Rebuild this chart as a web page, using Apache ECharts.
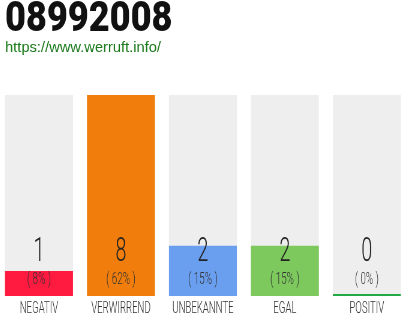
<!DOCTYPE html>
<html>
<head>
<meta charset="utf-8">
<script src="https://cdn.jsdelivr.net/npm/echarts@6/dist/echarts.min.js"></script>
<style>
html,body{margin:0;padding:0;background:#fff;overflow:hidden;}
#wrap{width:410px;height:320px;overflow:hidden;position:relative;}
#c{position:absolute;left:-2px;top:0;height:320px;transform-origin:0 0;}
</style>
</head>
<body>
<div id="wrap"><div id="c"></div></div>
<script>
const titleText = '08992008';
const urlText = 'https://www.werruft.info/';
const categories = ['NEGATIV', 'VERWIRREND', 'UNBEKANNTE', 'EGAL', 'POSITIV'];
const values = [1, 8, 2, 2, 0];
const colors = ['#ff1a40', '#f07d0c', '#6a9ff0', '#7dc95e', '#22aa44'];
const yMax = 8;

const S = 0.6; // horizontal condensing of the whole drawing
const el = document.getElementById('c');
el.style.width = (410 / S) + 'px';
el.style.transform = 'scaleX(' + S + ')';

const total = values.reduce((a, b) => a + b, 0);
const chart = echarts.init(el, null, {renderer: 'canvas'});
chart.setOption({
  animation: false,
  backgroundColor: '#fff',
  grid: {left: 0, right: 0, top: 95, bottom: 24, containLabel: false},
  xAxis: {
    type: 'category',
    data: categories,
    axisLine: {show: false},
    axisTick: {show: false},
    axisLabel: {color: '#333', fontFamily: 'Roboto', fontWeight: 300, fontSize: 16, margin: 5}
  },
  yAxis: {type: 'value', min: 0, max: yMax, show: false, splitLine: {show: false}},
  graphic: [
    {type: 'text', x: 7 / S, y: -1, scaleX: 1.433, style: {text: titleText, font: '900 42px Roboto', fill: '#111', textVerticalAlign: 'top'}},
    {type: 'text', x: 7 / S, y: 40, scaleX: 1.633, style: {text: urlText, font: '15px "Liberation Sans"', fill: '#1b7a1b', textVerticalAlign: 'top'}}
  ],
  series: [{
    type: 'bar',
    barWidth: '82.9%',
    barMinHeight: 2,
    showBackground: true,
    backgroundStyle: {color: '#eeeeee'},
    data: values.map((v, i) => ({value: v, itemStyle: {color: colors[i]}})),
    label: {
      show: true,
      position: 'insideBottom',
      distance: 5,
      formatter: p => '{v|' + p.value + '}\n{p|( ' + Math.round(p.value / total * 100) + '% )}',
      rich: {
        v: {fontFamily: 'Roboto', fontWeight: 300, fontSize: 33, color: '#222', lineHeight: 33, align: 'center'},
        p: {fontFamily: 'Roboto', fontWeight: 300, fontSize: 16.5, color: '#333', lineHeight: 22, align: 'center'}
      }
    }
  }]
});
</script>
</body>
</html>
